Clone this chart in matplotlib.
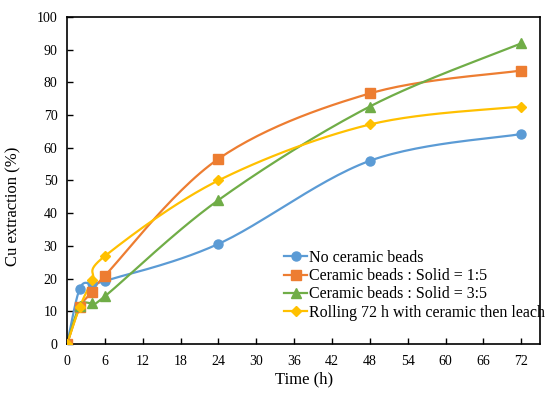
import numpy as np
import matplotlib
matplotlib.use("Agg")
import matplotlib.pyplot as plt

time_h = [0, 2, 4, 6, 24, 48, 72]
no_beads = [0, 16.9, 18.5, 19.3, 30.6, 56.0, 64.2]
beads_1_5 = [0, 11.2, 15.9, 20.9, 56.6, 76.6, 83.6]
beads_3_5 = [0, 11.6, 12.6, 14.6, 44.0, 72.6, 91.9]
rolling = [0, 11.3, 19.5, 26.9, 50.0, 67.1, 72.6]

labels = ["No ceramic beads", "Ceramic beads : Solid = 1:5",
          "Ceramic beads : Solid = 3:5", "Rolling 72 h with ceramic then leach"]
colors = ["#5B9BD5", "#ED7D31", "#70AD47", "#FFC000"]
markers = ["o", "s", "^", "D"]

plt.rcParams['font.family'] = ['Liberation Serif', 'DejaVu Serif']


def smooth(x, y, sx=75.0, sy=100.0, n=30):
    # excel-like smoothed line: cubic bezier with catmull-rom control points
    p = np.column_stack([np.asarray(x) / sx, np.asarray(y) / sy])
    out = [p[0]]
    for i in range(len(p) - 1):
        p0 = p[i - 1] if i > 0 else p[i]
        p1, p2 = p[i], p[i + 1]
        p3 = p[i + 2] if i + 2 < len(p) else p[i + 1]
        c1 = p1 + (p2 - p0) / 6
        c2 = p2 - (p3 - p1) / 6
        t = np.linspace(0, 1, n)[1:, None]
        seg = (1 - t) ** 3 * p1 + 3 * (1 - t) ** 2 * t * c1 + 3 * (1 - t) * t ** 2 * c2 + t ** 3 * p2
        out.extend(seg)
    out = np.array(out)
    return out[:, 0] * sx, out[:, 1] * sy


fig = plt.figure(figsize=(5.5, 3.97), dpi=100)
ax = fig.add_axes([0.122, 0.1335, 0.86, 0.824])

for ys, c, m, lab in zip([no_beads, beads_1_5, beads_3_5, rolling], colors, markers, labels):
    sxs, sys_ = smooth(time_h, ys)
    ax.plot(sxs, sys_, color=c, lw=1.6, zorder=2)
    ms = 5 if m == "D" else 6.5
    ax.plot(time_h, ys, linestyle="none", marker=m, color=c, ms=ms, zorder=3)
    ax.plot([], [], color=c, lw=1.6, marker=m, ms=ms, label=lab)

ax.set_xlim(0, 75)
ax.set_ylim(0, 100)
ax.set_xticks(range(0, 73, 6))
ax.set_yticks(range(0, 101, 10))
ax.tick_params(direction="in", labelsize=10, length=4, width=1)
ax.tick_params(axis="x", pad=8)
ax.tick_params(axis="y", pad=7)
for s in ax.spines.values():
    s.set_linewidth(1.2)
ax.set_xlabel("Time (h)", fontsize=12)
ax.set_ylabel("Cu extraction (%)", fontsize=12)
ax.xaxis.set_label_coords(0.5, -0.085)
ax.yaxis.set_label_coords(-0.097, 0.42)

ax.legend(loc="lower right", bbox_to_anchor=(1.031, 0.042), frameon=False, fontsize=11.5,
          handlelength=1.4, handletextpad=0.15, labelspacing=0.14, borderaxespad=0.2)

fig.savefig("out.png", dpi=100)
